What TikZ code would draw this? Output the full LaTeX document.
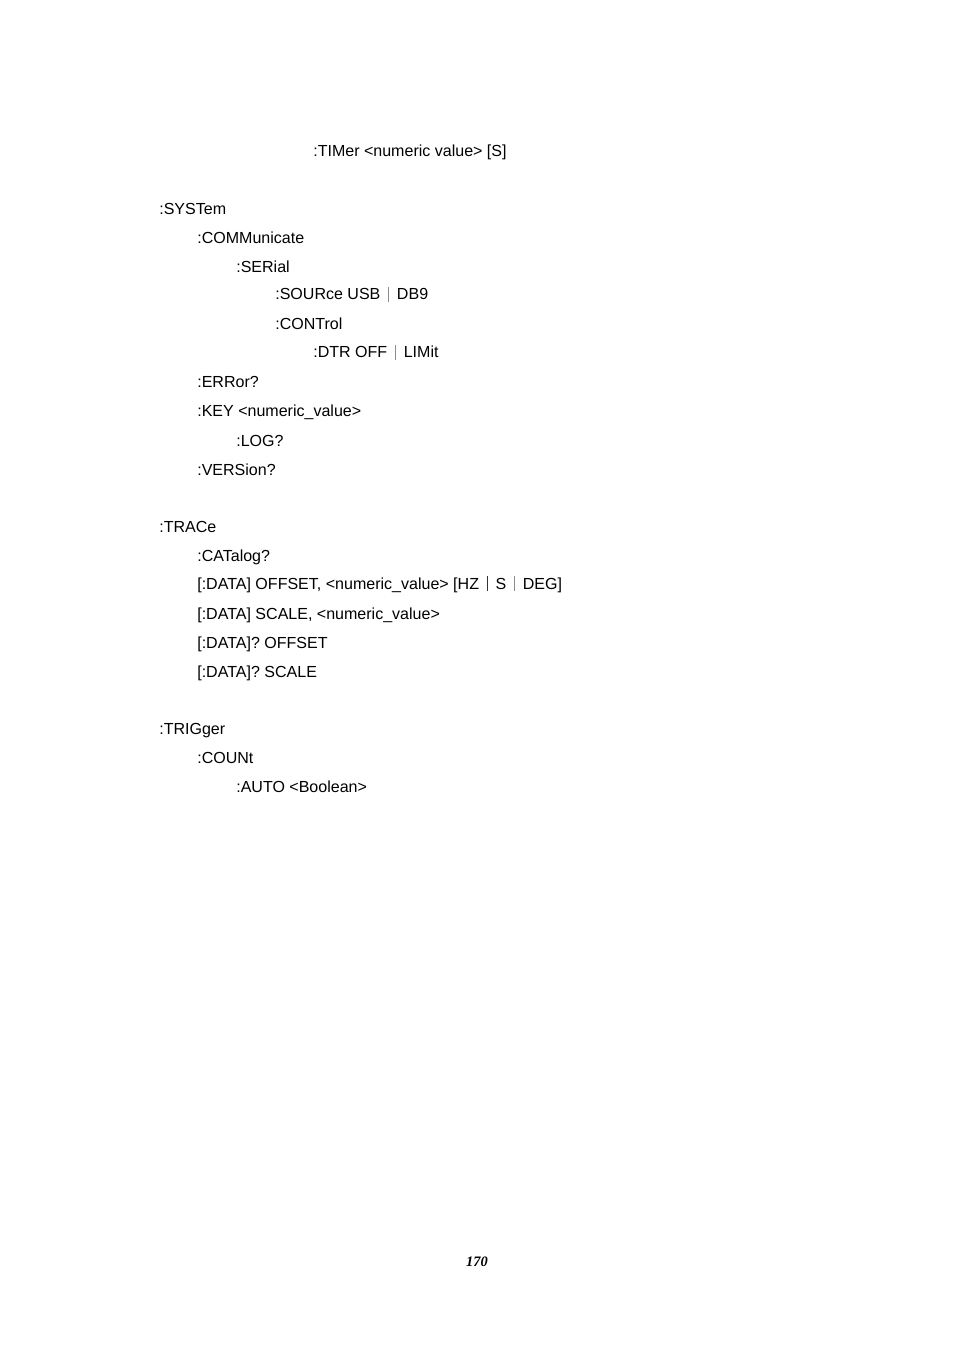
\documentclass[tikz,border=0pt]{standalone}
\usepackage{fontspec}
\setmainfont{Liberation Sans}
\newfontfamily\pagenumfont{Liberation Serif}
\newcommand{\vsep}[1][black!45]{\hspace{0.5em}\textcolor{#1}{\rule[-0.12em]{0.35pt}{0.95em}}\hspace{0.5em}}
\tikzset{cmd/.style={anchor=base west, inner sep=0pt, font=\fontsize{10}{12}\selectfont}}
\begin{document}
\begin{tikzpicture}[x=0.624pt, y=-0.624pt]
 \useasboundingbox (0,0) rectangle (954,1351);
 \node[cmd] (timer) at (313,157) {:TIMer <numeric value> [S]};
 % SYSTem tree
 \node[cmd] (syst) at (159,215) {:SYSTem};
 \node[cmd] (comm) at (197,244) {:COMMunicate};
 \node[cmd] (ser) at (236,273) {:SERial};
 \node[cmd] (sour) at (275,300) {:SOURce USB\vsep DB9};
 \node[cmd] (cont) at (275,330) {:CONTrol};
 \node[cmd] (dtr) at (313,358) {:DTR OFF\vsep LIMit};
 \node[cmd] (err) at (197,388) {:ERRor?};
 \node[cmd] (key) at (197,417) {:KEY <numeric\_value>};
 \node[cmd] (log) at (236,446) {:LOG?};
 \node[cmd] (vers) at (197,475) {:VERSion?};
 % TRACe tree
 \node[cmd] (trac) at (159,532) {:TRACe};
 \node[cmd] (cat) at (197,561) {:CATalog?};
 \node[cmd] (offs) at (197,589) {[:DATA] OFFSET, <numeric\_value> [HZ\vsep[black!80]S\vsep DEG]};
 \node[cmd] (scal) at (197,619) {[:DATA] SCALE, <numeric\_value>};
 \node[cmd] (qoffs) at (197,648) {[:DATA]? OFFSET};
 \node[cmd] (qscal) at (197,677) {[:DATA]? SCALE};
 % TRIGger tree
 \node[cmd] (trig) at (159,734) {:TRIGger};
 \node[cmd] (coun) at (197,763) {:COUNt};
 \node[cmd] (auto) at (236,792) {:AUTO <Boolean>};
 \node[anchor=base, inner sep=0pt, font=\pagenumfont\bfseries\itshape\fontsize{9}{10}\selectfont] (page) at (477,1266) {170};
\end{tikzpicture}
\end{document}
